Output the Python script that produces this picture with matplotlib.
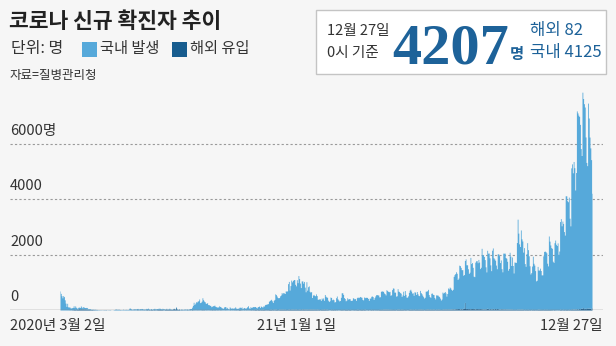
import numpy as np
import matplotlib
matplotlib.use('Agg')
from matplotlib import pyplot as plt
from matplotlib.patches import Rectangle

# daily new cases (0시 기준), 2020-03-02 .. 2020-12-31
total_2020 = [
    686, 600, 516, 438, 518, 483, 367, 248, 131, 242, 114, 110, 107, 76, 74, 84, 93, 152, 87, 147,
    98, 64, 76, 100, 104, 91, 146, 105, 78, 125,
    101, 89, 86, 94, 81, 47, 47, 53, 39, 27, 30, 32, 25, 27, 27, 22, 22, 18, 8, 13,
    9, 11, 8, 6, 10, 10, 10, 14, 9, 4,
    9, 6, 13, 8, 3, 2, 4, 12, 18, 34, 35, 27, 26, 29, 27, 19, 13, 15, 13, 32,
    12, 20, 23, 25, 16, 19, 40, 79, 58, 39, 27,
    35, 38, 49, 39, 39, 51, 57, 38, 38, 50, 45, 56, 49, 34, 37, 34, 43, 59, 49, 67,
    48, 17, 46, 51, 28, 39, 51, 62, 42, 43,
    51, 54, 63, 63, 61, 48, 44, 62, 50, 45, 35, 44, 62, 33, 39, 61, 60, 39, 34, 26,
    45, 63, 59, 41, 113, 58, 25, 28, 48, 18, 36,
    31, 30, 23, 33, 43, 20, 43, 36, 28, 34, 54, 56, 56, 103, 166, 279, 197, 246, 297, 288,
    324, 332, 397, 266, 280, 320, 441, 371, 323, 299, 248,
    235, 267, 195, 198, 168, 167, 119, 136, 156, 155, 176, 136, 121, 109, 106, 113, 153, 126, 110, 82,
    70, 61, 110, 125, 114, 61, 95, 50, 38, 113,
    77, 63, 75, 64, 73, 75, 114, 69, 54, 72, 58, 97, 102, 84, 110, 47, 73, 91, 76, 58,
    89, 121, 155, 77, 61, 119, 88, 103, 125, 114, 127,
    124, 97, 75, 118, 125, 145, 89, 143, 126, 100, 146, 143, 191, 205, 208, 223, 230, 313, 343, 363,
    386, 330, 271, 349, 382, 581, 555, 504, 450, 438,
    451, 511, 540, 629, 583, 631, 615, 594, 686, 682, 689, 950, 1030, 718, 880, 1078, 1014, 1064, 1097, 1097,
    926, 869, 1092, 985, 1241, 1132, 970, 808, 1046, 1050, 967,
]
overseas_2020 = [
    4, 3, 2, 5, 4, 3, 2, 3, 5, 6, 4, 8, 7, 9, 5, 13, 12, 18, 17, 24,
    14, 20, 32, 28, 51, 39, 41, 42, 36, 41,
    36, 38, 39, 30, 25, 20, 20, 19, 15, 17, 19, 14, 12, 12, 9, 8, 9, 5, 4, 8,
    6, 5, 4, 5, 5, 8, 4, 11, 6, 3,
    4, 5, 8, 3, 2, 2, 2, 2, 6, 4, 5, 4, 3, 3, 1, 9, 7, 2, 6, 4,
    8, 3, 4, 5, 6, 5, 4, 4, 5, 11, 6,
    7, 8, 11, 6, 6, 14, 12, 11, 7, 12, 8, 12, 9, 11, 13, 8, 12, 16, 17, 10,
    19, 10, 16, 20, 17, 11, 15, 24, 12, 12,
    15, 18, 27, 20, 18, 24, 17, 31, 11, 10, 23, 22, 42, 20, 22, 34, 21, 27, 22, 23,
    32, 48, 43, 18, 86, 33, 15, 20, 30, 7, 14,
    12, 13, 8, 11, 11, 6, 10, 16, 10, 7, 21, 7, 9, 18, 11, 12, 9, 9, 9, 12,
    11, 10, 10, 8, 10, 13, 16, 12, 15, 7, 10,
    12, 8, 7, 10, 9, 15, 10, 17, 12, 12, 15, 14, 8, 11, 15, 8, 8, 13, 14, 6,
    10, 6, 7, 11, 12, 6, 8, 4, 3, 16,
    10, 7, 11, 7, 13, 11, 13, 14, 14, 5, 18, 20, 17, 13, 14, 8, 8, 14, 9, 10,
    16, 9, 11, 12, 11, 14, 16, 11, 16, 11, 24,
    20, 25, 12, 19, 17, 26, 14, 25, 15, 27, 29, 18, 16, 14, 15, 16, 15, 18, 22, 23,
    24, 15, 16, 31, 12, 28, 30, 18, 19, 13,
    31, 23, 22, 29, 20, 26, 21, 25, 20, 18, 16, 22, 29, 20, 19, 26, 26, 28, 19, 26,
    23, 32, 20, 18, 25, 28, 24, 20, 16, 38, 34,
]

# 2021-01-01 .. 2021-12-27
total_2021 = [
    1029, 824, 657, 1020, 715, 840, 869, 674, 641, 665, 451, 537, 562, 524, 513, 580, 520, 389, 386, 404,
    401, 346, 431, 392, 437, 349, 559, 497, 469, 458, 355,
    305, 336, 467, 451, 370, 393, 372, 289, 303, 444, 504, 403, 362, 326, 344, 457, 621, 621, 561, 448,
    416, 332, 356, 440, 396, 406, 415, 355,
    344, 355, 444, 424, 398, 416, 346, 446, 470, 446, 465, 488, 470, 459, 382, 363, 469, 445, 463, 452,
    456, 415, 346, 428, 430, 494, 505, 482, 382, 447, 506,
    551, 557, 543, 543, 473, 478, 668, 700, 671, 677, 614, 587, 542, 731, 698, 673, 658, 672, 532, 549,
    735, 797, 785, 644, 644, 500, 512, 769, 680, 661,
    627, 606, 488, 541, 676, 525, 701, 564, 463, 463, 511, 635, 715, 747, 681, 610, 619, 528, 654, 646,
    561, 666, 585, 530, 516, 707, 629, 587, 533, 480, 430,
    459, 677, 681, 695, 744, 556, 485, 454, 602, 611, 565, 556, 452, 399, 545, 540, 540, 507, 482, 429,
    357, 395, 645, 610, 634, 668, 614, 501, 595, 794,
    762, 826, 794, 743, 711, 746, 1212, 1275, 1316, 1378, 1324, 1100, 1150, 1615, 1600, 1536, 1452, 1454, 1252, 1278,
    1784, 1842, 1630, 1629, 1487, 1318, 1363, 1896, 1673, 1710, 1539,
    1219, 1202, 1725, 1775, 1776, 1704, 1823, 1728, 1492, 1540, 2223, 1987, 1990, 1928, 1816, 1556, 1372, 2152, 2050, 2052,
    1880, 1626, 1418, 2155, 2236, 1882, 1841, 1793, 1619, 1487, 2025,
    2024, 1961, 1709, 1804, 1490, 1375, 2050, 2048, 2049, 1892, 1865, 1755, 1433, 1497, 2080, 1943, 1605, 1910, 1604, 1334,
    1729, 1720, 1716, 2431, 3273, 2771, 2383, 2289, 2885, 2564,
    2486, 2086, 2248, 1673, 1575, 2028, 2427, 2175, 1953, 1594, 1297, 1347, 1584, 1940, 1684, 1618, 1420, 1050, 1073, 1571,
    1440, 1439, 1508, 1423, 1266, 1266, 1952, 2111, 2124, 2104, 2061,
    1686, 1589, 2667, 2482, 2344, 2247, 2224, 1758, 1715, 2425, 2520, 2368, 2324, 2419, 2006, 2125, 3187, 3292, 3034, 3205,
    3120, 2827, 2699, 4116, 4115, 3938, 3901, 4068, 3309, 3032,
    5123, 5266, 4944, 5352, 5128, 4325, 4954, 7175, 7102, 7022, 6977, 6689, 5817, 5567, 7850, 7622, 7435, 7314, 6236, 5318,
    5202, 7456, 6919, 6233, 5842, 5419, 4207,
]
overseas_2021 = [
    23, 36, 16, 36, 24, 22, 35, 26, 30, 29, 25, 26, 31, 17, 26, 21, 31, 15, 27, 18,
    14, 20, 22, 24, 21, 30, 39, 28, 15, 28, 16,
    11, 10, 11, 22, 15, 21, 15, 15, 17, 12, 17, 10, 10, 12, 14, 20, 15, 20, 14, 13,
    20, 18, 22, 19, 14, 17, 20, 20,
    11, 11, 13, 16, 16, 14, 16, 23, 24, 20, 13, 16, 20, 20, 19, 14, 20, 27, 12, 12,
    13, 18, 11, 12, 16, 21, 14, 18, 15, 11, 17,
    15, 17, 14, 16, 21, 20, 21, 23, 17, 29, 27, 25, 30, 26, 24, 28, 20, 28, 17, 23,
    20, 17, 20, 19, 22, 14, 20, 32, 26, 25,
    18, 25, 21, 25, 17, 15, 17, 21, 15, 13, 15, 20, 24, 28, 21, 20, 24, 15, 19, 28,
    20, 19, 21, 25, 23, 33, 31, 26, 20, 24, 15,
    22, 20, 25, 32, 33, 20, 26, 31, 19, 21, 31, 26, 21, 16, 26, 22, 21, 38, 18, 22,
    17, 20, 23, 30, 33, 34, 26, 35, 34, 31,
    32, 30, 24, 32, 34, 44, 22, 41, 39, 46, 42, 52, 48, 49, 34, 49, 38, 40, 61, 69,
    273, 58, 46, 56, 46, 51, 43, 44, 50, 51, 52,
    42, 59, 34, 49, 51, 45, 47, 45, 49, 42, 50, 31, 38, 38, 37, 38, 45, 64, 50, 34,
    43, 48, 34, 39, 57, 30, 42, 53, 37, 48, 53,
    35, 31, 29, 40, 38, 38, 34, 31, 40, 27, 33, 30, 30, 29, 26, 27, 34, 24, 20, 20,
    21, 21, 17, 29, 19, 31, 26, 24, 28, 29,
    26, 20, 15, 23, 16, 19, 20, 23, 16, 17, 19, 12, 21, 16, 18, 20, 15, 17, 16, 23,
    28, 22, 20, 20, 17, 19, 16, 23, 20, 18, 23,
    20, 18, 19, 19, 17, 16, 16, 10, 15, 18, 12, 13, 11, 13, 14, 13, 25, 17, 18, 11,
    24, 18, 14, 21, 18, 18, 15, 24, 15, 20,
    22, 40, 29, 25, 31, 37, 30, 49, 29, 33, 54, 40, 60, 52, 79, 79, 48, 62, 46, 59,
    78, 68, 68, 71, 63, 36, 82,
]

yticks = [0, 2000, 4000, 6000]
ytick_labels = ['0', '2000', '4000', '6000명']
xtick_labels = ['2020년 3월 2일', '21년 1월 1일', '12월 27일']

total = np.array(total_2020 + total_2021)
overseas = np.array(overseas_2020 + overseas_2021)
domestic = np.maximum(total - overseas, 0)
days = np.arange(len(total))

plt.rcParams['font.family'] = ['Noto Sans CJK KR', 'DejaVu Sans']

W, H = 616, 346
bg = '#f6f6f6'
light = '#56a9da'
dark = '#175c8e'
blue = '#1d6299'
fig = plt.figure(figsize=(W / 100, H / 100), dpi=100, facecolor=bg)


def px(x, y):
    return x / W, 1 - y / H


# plot area: x 10..603, baseline y=310, 2000 per ~55.5px
ax = fig.add_axes([10 / W, 36 / H, 593 / W, 222 / H])
ax.set_facecolor(bg)
ax.fill_between(days, 0, overseas, step='mid', color=dark, lw=0)
ax.fill_between(days, overseas, overseas + domestic, step='mid', color=light, lw=0)
ax.set_xlim(-62.5, 678.75)
ax.set_ylim(0, 8000)
for v in yticks[1:]:
    ax.axhline(v, color='#9a9a9a', lw=0.8, ls=(0, (2, 2)), zorder=0)
ax.axhline(0, color='#8a8a8a', lw=1.0, zorder=3)
for v, lab in zip(yticks, ytick_labels):
    ax.annotate(lab, (0, v), xycoords=('axes fraction', 'data'), xytext=(0, 4),
                textcoords='offset points', ha='left', va='bottom',
                fontsize=10.5, color='#333333')
for s in ax.spines.values():
    s.set_visible(False)
ax.set_xticks([])
ax.set_yticks([])

# x labels
fig.text(*px(10, 326), xtick_labels[0], ha='left', va='center', fontsize=10.5, color='#333333')
fig.text(*px(297, 326), xtick_labels[1], ha='center', va='center', fontsize=10.5, color='#333333')
fig.text(*px(603, 326), xtick_labels[2], ha='right', va='center', fontsize=10.5, color='#333333')

# header
fig.text(*px(9, 21), '코로나 신규 확진자 추이', ha='left', va='center', fontsize=15.5,
         fontweight='bold', color='#222222')
fig.text(*px(11, 49), '단위: 명', ha='left', va='center', fontsize=11.5, color='#333333')
fig.patches.append(Rectangle(px(82, 57), 15 / W, 15 / H, transform=fig.transFigure,
                             facecolor=light, edgecolor='none'))
fig.text(*px(100, 49), '국내 발생', ha='left', va='center', fontsize=11, color='#333333')
fig.patches.append(Rectangle(px(172, 57), 15 / W, 15 / H, transform=fig.transFigure,
                             facecolor=dark, edgecolor='none'))
fig.text(*px(190, 49), '해외 유입', ha='left', va='center', fontsize=11, color='#333333')
fig.text(*px(10, 75), '자료=질병관리청', ha='left', va='center', fontsize=9, color='#333333')

# summary box
fig.patches.append(Rectangle(px(316, 74), 290 / W, 64 / H, transform=fig.transFigure,
                             facecolor='white', edgecolor='#c4c4c4', lw=1))
fig.text(*px(327, 31), '12월 27일', ha='left', va='center', fontsize=10.5, color='#333333')
fig.text(*px(327, 53), '0시 기준', ha='left', va='center', fontsize=10.5, color='#333333')
fig.text(*px(392, 63), f'{total[-1]}', ha='left', va='baseline', fontsize=42,
         fontweight='bold', family='Liberation Serif', color=blue)
fig.text(*px(510, 54), '명', ha='left', va='center', fontsize=11, fontweight='bold', color=blue)
fig.text(*px(530, 31), f'해외 {overseas[-1]}', ha='left', va='center', fontsize=12, color=blue)
fig.text(*px(530, 53), f'국내 {domestic[-1]}', ha='left', va='center', fontsize=12, color=blue)

fig.savefig('out.png', dpi=100, facecolor=bg)
